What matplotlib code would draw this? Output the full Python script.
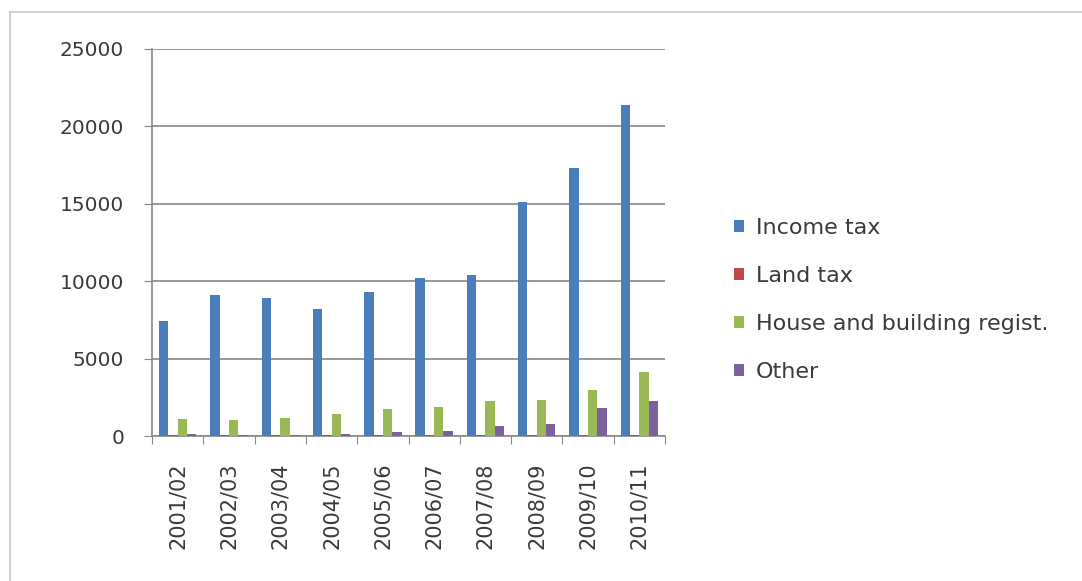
import matplotlib

matplotlib.use("Agg", force=True)
import matplotlib.pyplot as plt
import numpy as np
from matplotlib.lines import Line2D

years = ["2001/02", "2002/03", "2003/04", "2004/05", "2005/06",
         "2006/07", "2007/08", "2008/09", "2009/10", "2010/11"]
income_tax = [7400, 9100, 8900, 8200, 9300, 10200, 10400, 15100, 17300, 21400]
land_tax = [60, 60, 60, 60, 60, 60, 60, 60, 60, 60]
house_building = [1100, 1050, 1150, 1450, 1750, 1850, 2250, 2300, 3000, 4150]
other = [120, 80, 80, 100, 250, 300, 650, 780, 1800, 2250]

series = [
    ("Income tax", income_tax, "#4a7ebb"),
    ("Land tax", land_tax, "#be4b48"),
    ("House and building regist.", house_building, "#98b954"),
    ("Other", other, "#7d60a0"),
]

plt.rcParams["font.family"] = ["DejaVu Sans"]
text_color = "#3a3a3a"

fig = plt.figure(figsize=(10.82, 5.81), dpi=100)
# chart-area border: only left and top edges fall inside the picture
bx, by = 10 / 1082, 1 - 12 / 581
fig.add_artist(Line2D([bx, bx], [0, by], transform=fig.transFigure,
                      color="#c8c8c8", linewidth=1.2))
fig.add_artist(Line2D([bx, 1], [by, by], transform=fig.transFigure,
                      color="#c8c8c8", linewidth=1.2))

ax = fig.add_axes([152 / 1082, 1 - 436 / 581, 513 / 1082, 387 / 581])
x = np.arange(len(years))
w = 1 / 5.5
offsets = (np.arange(4) - 1.5) * w
for (name, vals, color), off in zip(series, offsets):
    ax.bar(x + off, vals, width=w, color=color, label=name, zorder=3)

ax.set_xlim(-0.5, len(years) - 0.5)
ax.set_ylim(0, 25000)
ax.set_yticks(np.arange(0, 25001, 5000))
ax.set_xticks(np.arange(-0.5, len(years), 1.0))
ax.set_xticklabels([])
ax.set_xticks(x, minor=True)
ax.set_xticklabels(years, minor=True, rotation=90, fontsize=15, color=text_color)
ax.tick_params(axis="x", which="minor", length=0, pad=19)
ax.tick_params(axis="x", which="major", length=6, color="#888888", direction="out")
ax.tick_params(axis="y", length=6, color="#888888", labelsize=14.5,
               labelcolor=text_color, pad=14)
ax.grid(axis="y", color="#868686", linewidth=1.2, zorder=0)
for side in ["top", "right"]:
    ax.spines[side].set_visible(False)
for side in ["left", "bottom"]:
    ax.spines[side].set_color("#888888")
    ax.spines[side].set_linewidth(1.2)

fig.legend(loc="center left", bbox_to_anchor=(714 / 1082, 1 - 300 / 581),
           frameon=False, fontsize=16, handlelength=0.45, handleheight=0.45,
           handletextpad=0.55, labelspacing=1.25, labelcolor=text_color)

fig.savefig("out.png")
